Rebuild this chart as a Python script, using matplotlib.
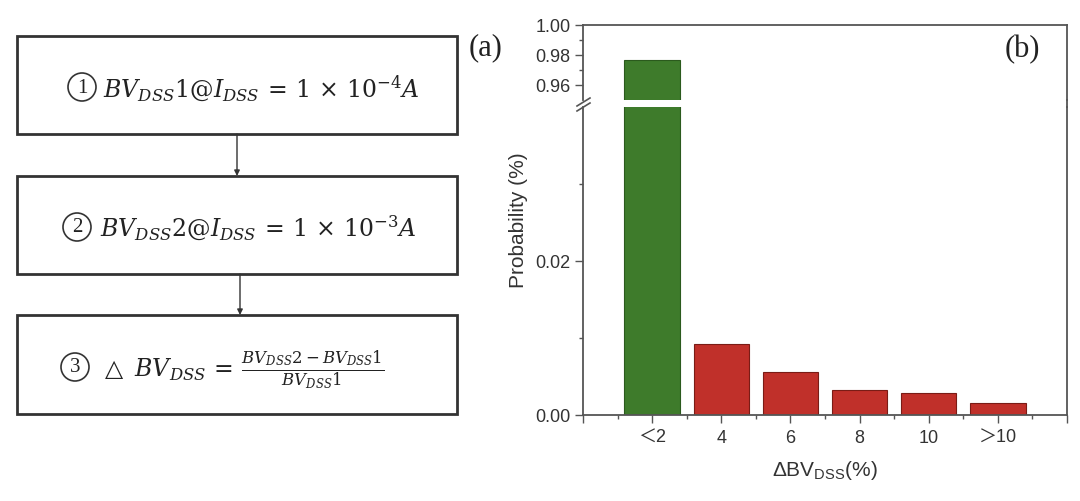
import numpy as np
import matplotlib
matplotlib.use('Agg')
import matplotlib.pyplot as plt
from matplotlib.patches import Rectangle, Circle
from matplotlib.lines import Line2D
from matplotlib.ticker import FormatStrFormatter

# data for panel (b)
categories = ['＜2', '4', '6', '8', '10', '＞10']
probability = [0.977, 0.0092, 0.0056, 0.0033, 0.0029, 0.0016]
bar_colors = ['#3e7b2b', '#c0302a', '#c0302a', '#c0302a', '#c0302a', '#c0302a']
edge_colors = ['#2b5a1d', '#7a1c16', '#7a1c16', '#7a1c16', '#7a1c16', '#7a1c16']

# text for panel (a)
step_nums = ['1', '2', '3']
steps = [
    '$BV_{DSS}1@I_{DSS}\\,=\\,1\\,\\times\\,10^{-4}A$',
    '$BV_{DSS}2@I_{DSS}\\,=\\,1\\,\\times\\,10^{-3}A$',
    '$\\triangle\\ BV_{DSS}\\,=\\,\\frac{BV_{DSS}2-BV_{DSS}1}{BV_{DSS}1}$',
]

plt.rcParams['font.family'] = ['Liberation Sans', 'Noto Sans CJK JP', 'DejaVu Sans']
plt.rcParams['mathtext.fontset'] = 'dejavuserif'

W, H = 1080, 501
fig = plt.figure(figsize=(W / 100, H / 100), dpi=100)

# ---- panel (a): flowchart, drawn in pixel coords
axa = fig.add_axes([0, 0, 1, 1], zorder=0)
axa.set_xlim(0, W)
axa.set_ylim(H, 0)
axa.axis('off')

boxes = [(17, 36, 440, 98), (17, 176, 440, 98), (17, 315, 440, 99)]
circ_xy = [(82, 87), (77, 227), (75, 367)]
text_xy = [(103, 96), (100, 237), (100, 376)]
for (bx, by, bw, bh), (cx, cy), (tx, ty), n, s in zip(boxes, circ_xy, text_xy,
                                                      step_nums, steps):
    axa.add_patch(Rectangle((bx, by), bw, bh, fill=False, lw=2, ec='#333333'))
    axa.add_patch(Circle((cx, cy), 14, fill=False, lw=1.2, ec='#333333'))
    axa.text(cx, cy + 1, n, ha='center', va='center', fontsize=15,
             family='Liberation Serif', color='#222222')
    axa.text(tx, ty, s, ha='left', va='baseline', fontsize=17, color='#222222')

for x0, y0, y1 in [(237, 134, 176), (240, 274, 315)]:
    axa.annotate('', xy=(x0, y1), xytext=(x0, y0),
                 arrowprops=dict(arrowstyle='-|>', lw=1, color='#333333',
                                 mutation_scale=8, shrinkA=0, shrinkB=0))

axa.text(486, 48, '(a)', ha='center', va='center', fontsize=22,
         family='Liberation Serif', color='#222222')

# ---- panel (b): broken-axis bar chart
left, right = 583 / W, 1067 / W
ax_hi = fig.add_axes([left, 1 - 100 / H, right - left, 75 / H])
ax_lo = fig.add_axes([left, 1 - 415 / H, right - left, 308 / H])

x = np.arange(len(categories))
for ax in (ax_hi, ax_lo):
    ax.bar(x, probability, width=0.8, color=bar_colors, edgecolor=edge_colors,
           linewidth=0.8)
    ax.set_xlim(-1, 6)
    for sp in ax.spines.values():
        sp.set_color('#555555')
        sp.set_linewidth(1.3)
    ax.tick_params(axis='both', which='major', direction='out', length=6,
                   width=1, color='#555555', labelsize=13, labelcolor='#333333')
    ax.tick_params(axis='both', which='minor', direction='out', length=3,
                   width=1, color='#555555')

ax_hi.set_ylim(0.95, 1.00)
ax_hi.set_yticks([0.96, 0.98, 1.00])
ax_hi.set_yticks([0.97, 0.99], minor=True)
ax_hi.yaxis.set_major_formatter(FormatStrFormatter('%.2f'))
ax_hi.spines['bottom'].set_visible(False)
ax_hi.set_xticks([])
ax_hi.tick_params(axis='y', pad=3)

ax_lo.set_ylim(0, 0.04)
ax_lo.set_yticks([0.00, 0.02])
ax_lo.set_yticks([0.01, 0.03], minor=True)
ax_lo.yaxis.set_major_formatter(FormatStrFormatter('%.2f'))
ax_lo.spines['top'].set_visible(False)
ax_lo.set_xticks(np.arange(-1, 7))
ax_lo.set_xticklabels([''] + categories + [''])
ax_lo.set_xticks(np.arange(-0.5, 6), minor=True)
ax_lo.tick_params(axis='x', pad=5)
ax_lo.tick_params(axis='y', pad=3)

# continuous right spine across the gap, break marks on the left spine
p_hi, p_lo = ax_hi.get_position(), ax_lo.get_position()
fig.add_artist(Line2D([p_lo.x1, p_lo.x1], [p_lo.y1, p_hi.y0], color='#555555',
                      lw=1.3, transform=fig.transFigure))
for dy in (0, 5):
    xs = [(583 - 6) / W, (583 + 7) / W]
    ys = [1 - (106 + dy) / H, 1 - (98 + dy) / H]
    fig.add_artist(Line2D(xs, ys, color='#555555', lw=1.2,
                          transform=fig.transFigure))

fig.text(518 / W, 1 - 220 / H, 'Probability (%)', rotation=90, ha='center',
         va='center', fontsize=15, color='#333333')
fig.text(825 / W, 1 - 470 / H, 'ΔBV$_{\\mathregular{DSS}}$(%)',
         ha='center', va='center', fontsize=15, color='#333333')
fig.text(1022 / W, 1 - 50 / H, '(b)', ha='center', va='center', fontsize=22,
         family='Liberation Serif', color='#222222')

fig.savefig('out.png', dpi=100)
